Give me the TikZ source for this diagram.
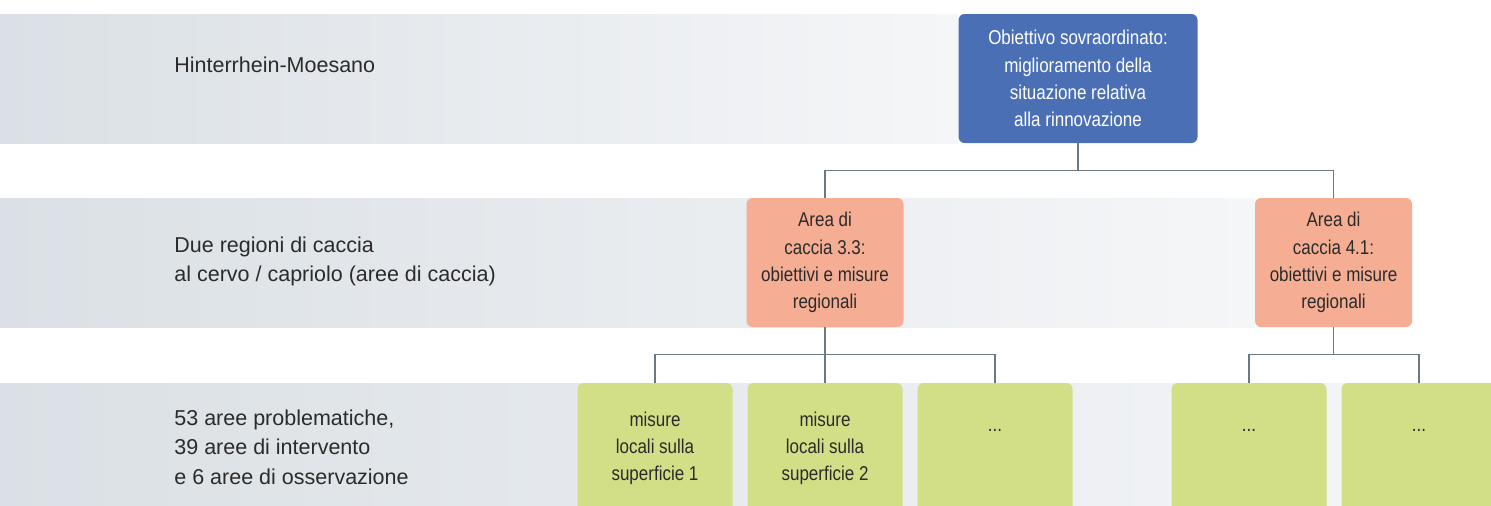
\documentclass[tikz,border=0pt]{standalone}
\usepackage{fontspec}
\setmainfont{Liberation Sans}
\newfontfamily\condfont[FakeStretch=0.85]{Liberation Sans}
\usetikzlibrary{positioning}

\definecolor{goalblue}{HTML}{4A6FB5}
\definecolor{areaorange}{HTML}{F5AE94}
\definecolor{measuregreen}{HTML}{D3DF87}
\definecolor{linkgray}{HTML}{6B7985}
\definecolor{bandleft}{HTML}{DAE0E5}
\definecolor{bandright}{HTML}{F5F6F8}
\definecolor{inkgray}{HTML}{2B2B2B}

\begin{document}
\begin{tikzpicture}[x=0.5pt,y=-0.5pt,node distance=85pt,
  box/.style={rounded corners=3pt,inner sep=0pt,align=center,
    font=\condfont\fontsize{10}{13.6}\selectfont},
  goal/.style={box,fill=goalblue,text=white,minimum width=119.5pt,minimum height=64.5pt},
  area/.style={box,fill=areaorange,text=inkgray,minimum width=78.5pt,minimum height=64.5pt},
  measure/.style={box,fill=measuregreen,minimum width=77.5pt,minimum height=64.5pt},
  measuretext/.style={inner sep=0pt,align=center,text=inkgray,
    font=\condfont\fontsize{10}{13.6}\selectfont,execute at begin node=\strut},
  levellabel/.style={anchor=north west,inner sep=0pt,align=left,text=inkgray,
    font=\fontsize{10.75}{14.75}\selectfont,execute at begin node=\strut},
  link/.style={draw=linkgray,line width=0.75pt},
  elbow/.style={to path={-- ++(0,27) -| (\tikztotarget)}}]

\useasboundingbox (0,0) rectangle (1491,505);
\clip (0,0) rectangle (1491,505);

% level bands
\shade[left color=bandleft,right color=bandright] (0,14) rectangle (958,143);
\shade[left color=bandleft,right color=bandright] (0,198) rectangle (1255,327);
\shade[left color=bandleft,right color=bandright] (0,383) rectangle (1491,512);

\node[levellabel] (lvl1) at (174,51.7) {Hinterrhein-Moesano};
\node[levellabel] (lvl2) at (174,236.5) {Due regioni di caccia\\al cervo / capriolo (aree di caccia)};
\node[levellabel] (lvl3) at (174,409.5) {53 aree problematiche,\\39 aree di intervento\\e 6 aree di osservazione};

% boxes
\node[goal] (obj) at (1078,78.5) {Obiettivo sovraordinato:\\miglioramento della\\situazione relativa\\ alla rinnovazione};
\node[area] (area33) at (825,262.5) {Area di\\caccia 3.3:\\obiettivi e misure\\regionali};
\node[area] (area41) at (1333.5,262.5) {Area di\\caccia 4.1:\\obiettivi e misure\\regionali};

\node[measure] (m1) at (655,447.5) {};
\node[measure] (m2) [right of=m1] {};
\node[measure] (m3) [right of=m2] {};
\node[measure] (m4) at (1249,447.5) {};
\node[measure] (m5) [right of=m4] {};

\node[measuretext,below=14.5pt of m1.north] (t1) {misure\\locali sulla\\superficie 1};
\node[measuretext,below=14.5pt of m2.north] (t2) {misure\\locali sulla\\superficie 2};
\node[measuretext,below=14.5pt of m3.north] (t3) {...};
\node[measuretext,below=14.5pt of m4.north] (t4) {...};
\node[measuretext,below=14.5pt of m5.north] (t5) {...};

% connectors
\path[link] (obj.south) edge[elbow] (area33.north)
                        edge[elbow] (area41.north)
      (area33.south) edge[elbow] (m1.north)
                     edge[elbow] (m2.north)
                     edge[elbow] (m3.north)
      (area41.south) edge[elbow] (m4.north)
                     edge[elbow] (m5.north);

\end{tikzpicture}
\end{document}
